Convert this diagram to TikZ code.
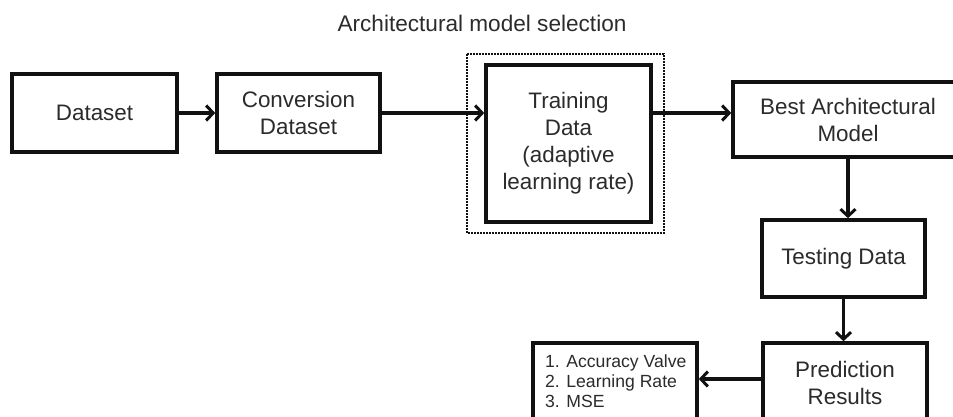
\documentclass[tikz,border=0pt]{standalone}
\usepackage{fontspec}
\setmainfont{Liberation Sans}
\usetikzlibrary{arrows.meta}
\definecolor{txt}{HTML}{2B2B2B}
\definecolor{ln}{HTML}{111111}
\tikzset{
  box/.style={draw=ln, line width=3.6pt, fill=white, inner sep=0pt, align=center,
    text=txt, font=\fontsize{22.4}{27}\selectfont},
  conn/.style={draw=ln, line width=3.2pt, -{Straight Barb[length=7pt,width=15pt,line width=3pt]}},
}
\begin{document}
\begin{tikzpicture}[x=1pt,y=-1pt]
\useasboundingbox (0,0) rectangle (953,417);
\clip (0,0) rectangle (953,417);
\node[text=txt, font=\fontsize{22.6}{27}\selectfont] (title) at (482,23) {Architectural model selection};
\draw[ln, line width=2pt, dash pattern=on 1.6pt off 1.4pt] (467,54) rectangle (664,233);
\node[box, minimum width=165, minimum height=78] (ds) at (94.5,113) {Dataset};
\node[box, minimum width=163, minimum height=78] (conv) at (298.5,113) {Conversion\\Dataset};
\node[box, minimum width=165, minimum height=157] (train) at (568.5,143.5) {Training\\Data\\(adaptive\\learning rate)};
\node[box, minimum width=230, minimum height=75] (best) at (848,119.5) {Best Architectural\\Model};
\node[box, minimum width=163, minimum height=77] (test) at (843.5,258.5) {Testing Data};
\node[box, minimum width=164, minimum height=80] (pred) at (845,383) {Prediction\\Results};
\node[box, minimum width=164, minimum height=80] (list) at (615,383) {};
\node[anchor=north west, inner sep=0pt, align=left, text=txt, font=\fontsize{17.6}{20}\selectfont] (items) at (545,355) {1. Accuracy Valve\\2. Learning Rate\\3. MSE};
\draw[conn] (ds.east) -- (conv.west);
\draw[conn] (conv.east) -- (conv.east -| train.west);
\draw[conn] (conv.east -| train.east) -- (conv.east -| best.west);
\draw[conn] (best.south) -- (best.south |- test.north);
\draw[conn] (test.south) -- (test.south |- pred.north);
\draw[conn] ([yshift=4pt]pred.west) -- ([yshift=4pt]pred.west -| list.east);
\end{tikzpicture}
\end{document}
